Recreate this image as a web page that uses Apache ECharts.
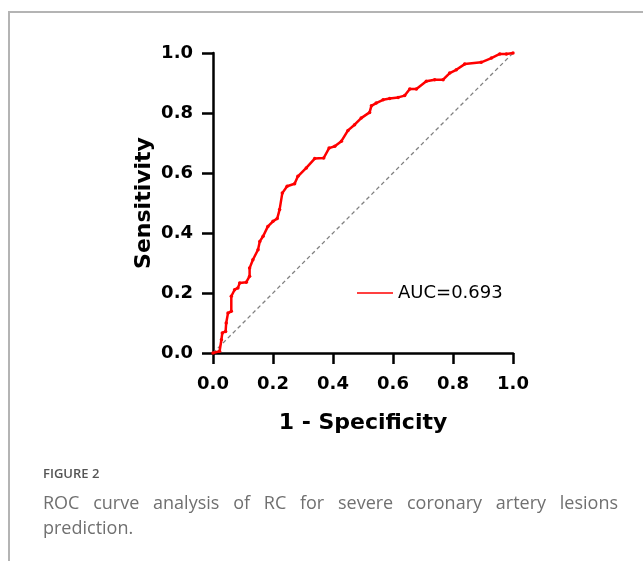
<!DOCTYPE html>
<html>
<head>
<meta charset="utf-8">
<script src="https://cdn.jsdelivr.net/npm/echarts@6/dist/echarts.min.js"></script>
<style>
  html, body { margin: 0; padding: 0; background: #fff; }
  #wrap { position: relative; width: 643px; height: 561px; overflow: hidden; }
  #frame { position: absolute; left: 8px; top: 11px; width: 700px; height: 600px;
           border-top: 2px solid #b4b4b4; border-left: 2px solid #b4b4b4; }
  #chart { position: absolute; left: 0; top: 0; width: 643px; height: 561px; }
  #caption { position: absolute; left: 43px; top: 465px; width: 575px;
             font-family: "Open Sans", sans-serif; }
  #caption .fig { font-size: 13px; line-height: 16px; font-weight: 600; color: #555; }
  #caption .txt { font-size: 18px; line-height: 25px; font-weight: 400; color: #707070; margin-top: 9px; }
  #caption .just { text-align: justify; text-align-last: justify; }
</style>
</head>
<body>
<div id="wrap">
  <div id="frame"></div>
  <div id="chart"></div>
  <div id="caption">
    <div class="fig">FIGURE 2</div>
    <div class="txt"><div class="just">ROC curve analysis of RC for severe coronary artery lesions</div><div>prediction.</div></div>
  </div>
</div>
<script>
// ROC curve points
var fpr = [0, 0.022, 0.028, 0.031, 0.042, 0.044, 0.05, 0.061, 0.061, 0.072,
  0.083, 0.089, 0.111, 0.122, 0.122, 0.133, 0.15, 0.156, 0.167, 0.183,
  0.2, 0.214, 0.222, 0.231, 0.247, 0.272, 0.283, 0.311, 0.339, 0.369,
  0.387, 0.406, 0.428, 0.45, 0.472, 0.494, 0.522, 0.528, 0.544, 0.567,
  0.589, 0.617, 0.639, 0.656, 0.678, 0.711, 0.739, 0.767, 0.789, 0.811,
  0.839, 0.894, 0.928, 0.956, 0.978, 1.0];
var tpr = [0, 0.006, 0.044, 0.067, 0.072, 0.1, 0.133, 0.139, 0.189, 0.211,
  0.217, 0.233, 0.236, 0.256, 0.283, 0.311, 0.344, 0.372, 0.389, 0.422,
  0.439, 0.448, 0.478, 0.533, 0.556, 0.564, 0.589, 0.617, 0.648, 0.65,
  0.683, 0.689, 0.706, 0.742, 0.761, 0.783, 0.802, 0.824, 0.833, 0.844,
  0.848, 0.852, 0.858, 0.88, 0.88, 0.906, 0.911, 0.911, 0.933, 0.944,
  0.963, 0.969, 0.983, 0.997, 0.997, 1.0];
// reference (chance) line
var refX = [0, 1];
var refY = [0, 1];
var aucLabel = "AUC=0.693";

var chart = echarts.init(document.getElementById("chart"));

var axisFont = "DejaVu Sans, sans-serif";
function axisCommon(name, gap) {
  return {
    type: "value",
    min: 0,
    max: 1,
    interval: 0.2,
    name: name,
    nameLocation: "middle",
    nameGap: gap,
    nameTextStyle: { fontSize: 22, fontWeight: "bold", color: "#000", fontFamily: axisFont },
    axisLine: { show: true, lineStyle: { color: "#000", width: 2.5 } },
    axisTick: { show: true, length: 11, lineStyle: { color: "#000", width: 2.5 } },
    axisLabel: {
      fontSize: 18, fontWeight: "bold", color: "#000", fontFamily: axisFont, margin: 20,
      formatter: function (v) { return v.toFixed(1); }
    },
    splitLine: { show: false }
  };
}

var xAxis = axisCommon("1 - Specificity", 59);
xAxis.axisLabel.margin = 22;
var yAxis = axisCommon("Sensitivity", 58);

var option = {
  animation: false,
  backgroundColor: "transparent",
  grid: { left: 213, top: 53, width: 300, height: 300 },
  legend: {
    left: 357,
    top: 284,
    padding: 0,
    icon: "rect",
    itemWidth: 36,
    itemHeight: 1.5,
    data: [aucLabel],
    textStyle: { fontSize: 18, color: "#000", fontFamily: axisFont }
  },
  xAxis: xAxis,
  yAxis: yAxis,
  series: [
    {
      name: "ref",
      type: "line",
      data: refX.map(function (x, i) { return [x, refY[i]]; }),
      symbol: "none",
      lineStyle: { color: "#808080", width: 1.3, type: [4, 3] },
      z: 1
    },
    {
      name: aucLabel,
      type: "line",
      data: fpr.map(function (x, i) { return [x, tpr[i]]; }),
      symbol: "circle",
      symbolSize: 3.5,
      itemStyle: { color: "#ff0000" },
      lineStyle: { color: "#ff0000", width: 2.5 },
      z: 3
    }
  ]
};

chart.setOption(option);
</script>
</body>
</html>
